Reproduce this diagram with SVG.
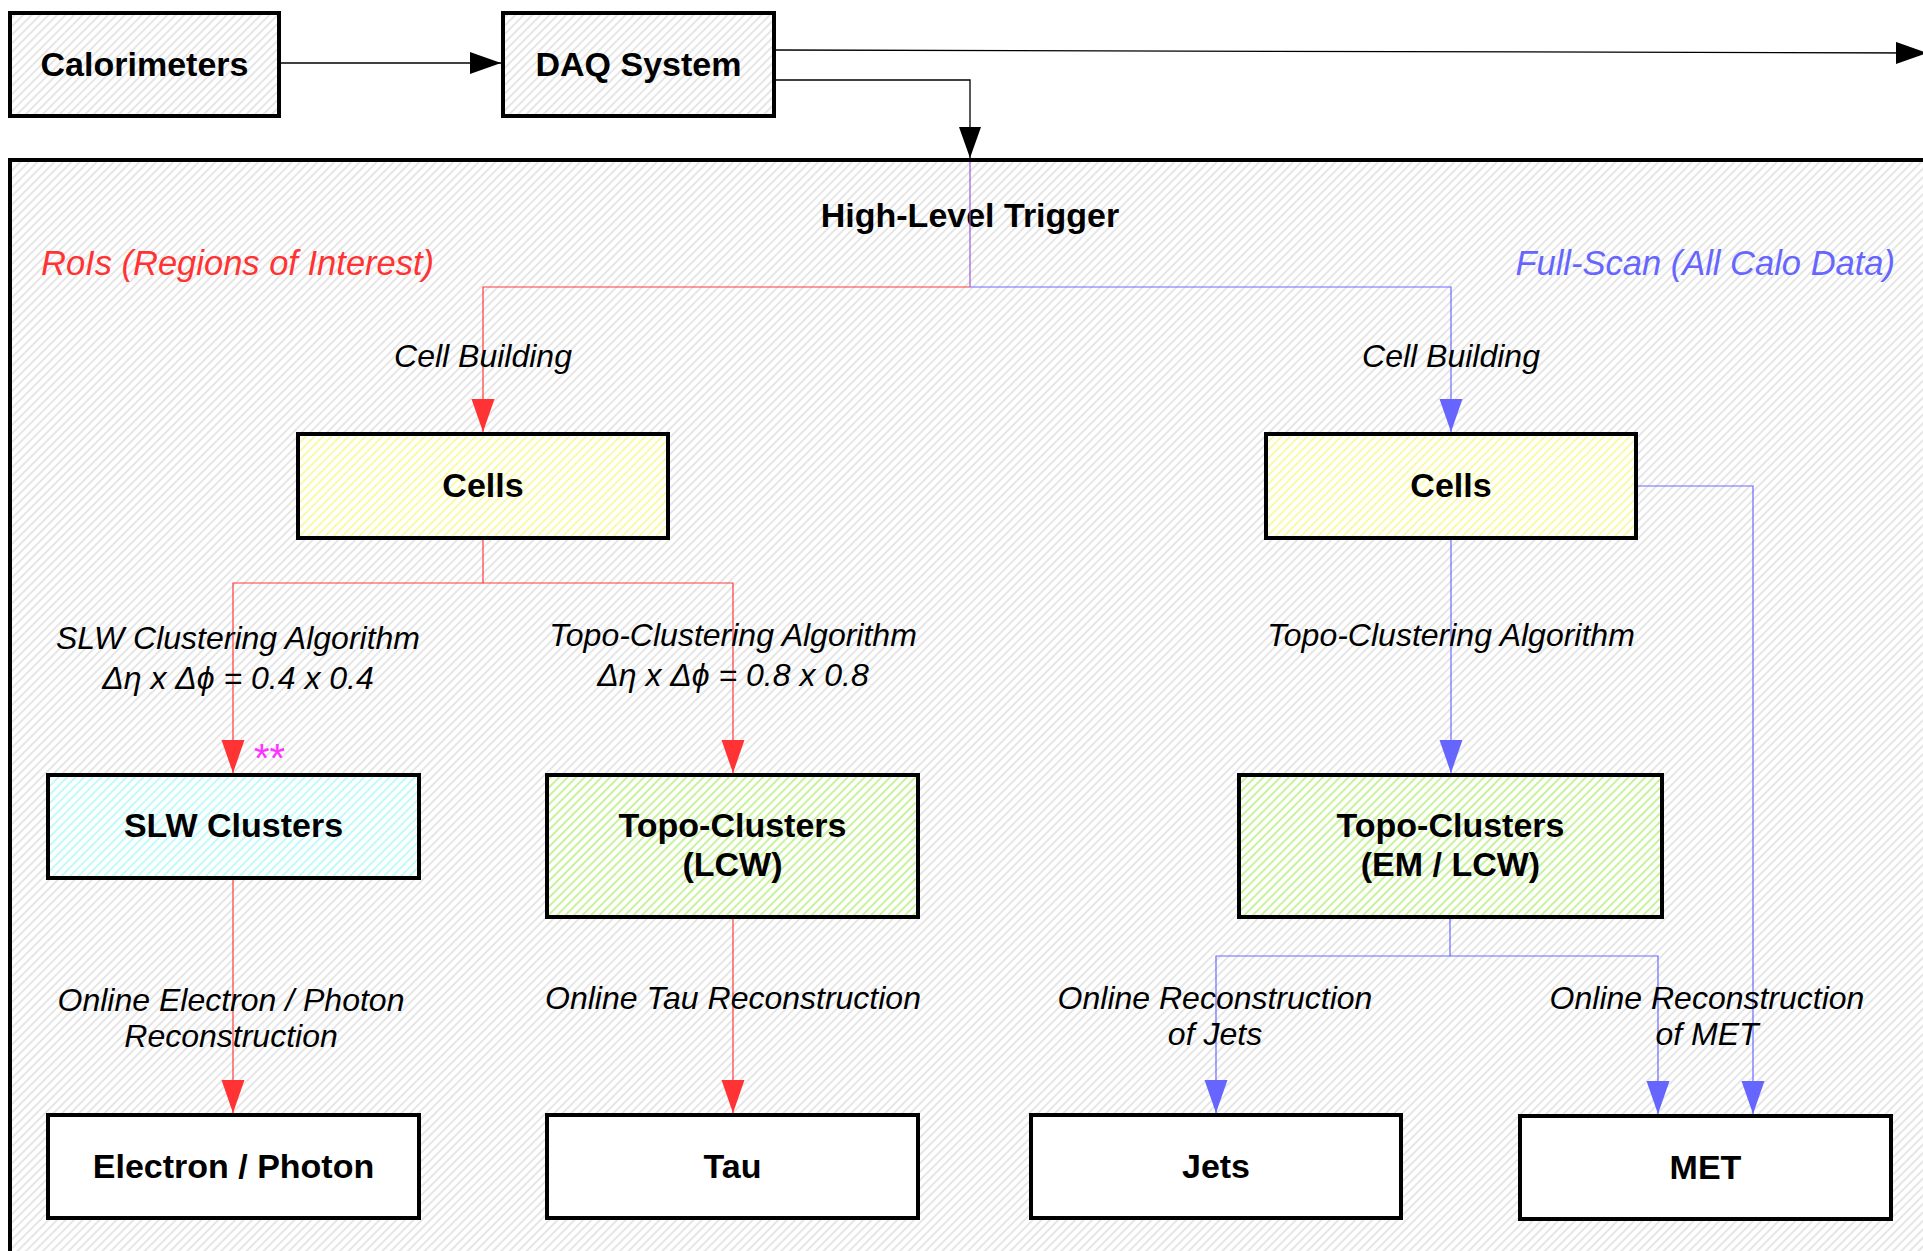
<svg xmlns="http://www.w3.org/2000/svg" width="1923" height="1251" viewBox="0 0 1923 1251">
  <style>
    text { font-family: "Liberation Sans", Arial, "DejaVu Sans", sans-serif; }
    .box { stroke: #000; stroke-width: 4; }
    .name { font-weight: bold; font-size: 34px; text-anchor: middle; fill: #000; }
    .step { font-style: italic; font-size: 32px; text-anchor: middle; fill: #000; }
    .region { font-style: italic; font-size: 34.5px; }
    .red { stroke: #ff3b3b; stroke-width: 1.2; fill: none; }
    .blue { stroke: #6b6bff; stroke-width: 1.2; fill: none; }
    .blk { stroke: #000; stroke-width: 1.3; fill: none; }
  </style>
  <defs>
    <pattern id="hatch-gray" patternUnits="userSpaceOnUse" width="6" height="6" patternTransform="rotate(45)">
      <rect width="6" height="6" fill="#fff"/>
      <line x1="3" y1="0" x2="3" y2="6" stroke="#d2d2d2" stroke-width="1.1"/>
    </pattern>
    <pattern id="hatch-yellow" patternUnits="userSpaceOnUse" width="6" height="6" patternTransform="rotate(45)">
      <rect width="6" height="6" fill="#fff"/>
      <line x1="3" y1="0" x2="3" y2="6" stroke="#f7f560" stroke-width="1.1"/>
    </pattern>
    <pattern id="hatch-green" patternUnits="userSpaceOnUse" width="6" height="6" patternTransform="rotate(45)">
      <rect width="6" height="6" fill="#fff"/>
      <line x1="3" y1="0" x2="3" y2="6" stroke="#9be84a" stroke-width="1.1"/>
    </pattern>
    <pattern id="hatch-cyan" patternUnits="userSpaceOnUse" width="6" height="6" patternTransform="rotate(45)">
      <rect width="6" height="6" fill="#fff"/>
      <line x1="3" y1="0" x2="3" y2="6" stroke="#8ef6f6" stroke-width="1.1"/>
    </pattern>
    <marker id="arr-black" markerUnits="userSpaceOnUse" markerWidth="32" markerHeight="22" refX="31" refY="11" orient="auto">
      <path d="M0,0 L31,11 L0,22 z" fill="#000"/>
    </marker>
    <marker id="arr-red" markerUnits="userSpaceOnUse" markerWidth="34" markerHeight="24" refX="33" refY="12" orient="auto">
      <path d="M0,0.5 L33,12 L0,23.5 z" fill="#ff3333"/>
    </marker>
    <marker id="arr-blue" markerUnits="userSpaceOnUse" markerWidth="34" markerHeight="24" refX="33" refY="12" orient="auto">
      <path d="M0,0.5 L33,12 L0,23.5 z" fill="#6666ff"/>
    </marker>
  </defs>

  <rect width="1923" height="1251" fill="#fff"/>

  <!-- High-Level Trigger container -->
  <g id="hlt">
    <rect x="10" y="160" width="1930" height="1110" fill="url(#hatch-gray)" class="box"/>
    <text class="name" x="970" y="227">High-Level Trigger</text>
    <text class="region" x="41" y="275" fill="#ff3333">RoIs (Regions of Interest)</text>
    <text class="region" x="1895" y="275" fill="#6666ff" text-anchor="end">Full-Scan (All Calo Data)</text>
  </g>

  <!-- connectors -->
  <g id="connectors">
    <line class="blk" x1="279" y1="63" x2="501" y2="63" marker-end="url(#arr-black)"/>
    <line class="blk" x1="774" y1="50" x2="1927" y2="53" marker-end="url(#arr-black)"/>
    <polyline class="blk" points="774,80 970,80 970,158" marker-end="url(#arr-black)"/>
    <line x1="970" y1="162" x2="970" y2="287" stroke="#9a5ad6" stroke-width="1.2"/>

    <!-- RoI branch -->
    <polyline class="red" points="970,287 483,287 483,432" marker-end="url(#arr-red)"/>
    <polyline class="red" points="483,539 483,583 233,583 233,773" marker-end="url(#arr-red)"/>
    <polyline class="red" points="483,583 733,583 733,773" marker-end="url(#arr-red)"/>
    <line class="red" x1="233" y1="879" x2="233" y2="1113" marker-end="url(#arr-red)"/>
    <line class="red" x1="733" y1="918" x2="733" y2="1113" marker-end="url(#arr-red)"/>

    <!-- full-scan branch -->
    <polyline class="blue" points="970,287 1451,287 1451,432" marker-end="url(#arr-blue)"/>
    <line class="blue" x1="1451" y1="539" x2="1451" y2="773" marker-end="url(#arr-blue)"/>
    <polyline class="blue" points="1450,918 1450,956 1216,956 1216,1113" marker-end="url(#arr-blue)"/>
    <polyline class="blue" points="1450,956 1658,956 1658,1114" marker-end="url(#arr-blue)"/>
    <polyline class="blue" points="1637,486 1753,486 1753,1114" marker-end="url(#arr-blue)"/>

    <!-- step labels -->
    <text class="step" x="483" y="367">Cell Building</text>
    <text class="step" x="1451" y="367">Cell Building</text>
    <text class="step" x="238" y="649">SLW Clustering Algorithm</text>
    <text class="step" x="238" y="689">Δη x Δϕ = 0.4 x 0.4</text>
    <text class="step" x="733" y="646">Topo-Clustering Algorithm</text>
    <text class="step" x="733" y="686">Δη x Δϕ = 0.8 x 0.8</text>
    <text class="step" x="1451" y="646">Topo-Clustering Algorithm</text>
    <text x="254" y="772" font-size="40" fill="#ff33ff">**</text>
    <text class="step" x="231" y="1011">Online Electron / Photon</text>
    <text class="step" x="231" y="1047">Reconstruction</text>
    <text class="step" x="733" y="1009">Online Tau Reconstruction</text>
    <text class="step" x="1215" y="1009">Online Reconstruction</text>
    <text class="step" x="1215" y="1045">of Jets</text>
    <text class="step" x="1707" y="1009">Online Reconstruction</text>
    <text class="step" x="1707" y="1045">of MET</text>
  </g>

  <g id="calorimeters">
    <rect x="10" y="13" width="269" height="103" fill="url(#hatch-gray)" class="box"/>
    <text class="name" x="144.5" y="76">Calorimeters</text>
  </g>
  <g id="daq">
    <rect x="503" y="13" width="271" height="103" fill="url(#hatch-gray)" class="box"/>
    <text class="name" x="638.5" y="76">DAQ System</text>
  </g>

  <g id="cells-roi">
    <rect x="298" y="434" width="370" height="104" fill="url(#hatch-yellow)" class="box"/>
    <text class="name" x="483" y="497">Cells</text>
  </g>
  <g id="cells-fs">
    <rect x="1266" y="434" width="370" height="104" fill="url(#hatch-yellow)" class="box"/>
    <text class="name" x="1451" y="497">Cells</text>
  </g>

  <g id="slw-clusters">
    <rect x="48" y="775" width="371" height="103" fill="url(#hatch-cyan)" class="box"/>
    <text class="name" x="233.5" y="837">SLW Clusters</text>
  </g>
  <g id="topo-lcw">
    <rect x="547" y="775" width="371" height="142" fill="url(#hatch-green)" class="box"/>
    <text class="name" x="732.5" y="837">Topo-Clusters</text>
    <text class="name" x="732.5" y="876">(LCW)</text>
  </g>
  <g id="topo-em-lcw">
    <rect x="1239" y="775" width="423" height="142" fill="url(#hatch-green)" class="box"/>
    <text class="name" x="1450.5" y="837">Topo-Clusters</text>
    <text class="name" x="1450.5" y="876">(EM / LCW)</text>
  </g>

  <g id="electron-photon">
    <rect x="48" y="1115" width="371" height="103" fill="#fff" class="box"/>
    <text class="name" x="233.5" y="1178">Electron / Photon</text>
  </g>
  <g id="tau">
    <rect x="547" y="1115" width="371" height="103" fill="#fff" class="box"/>
    <text class="name" x="732.5" y="1178">Tau</text>
  </g>
  <g id="jets">
    <rect x="1031" y="1115" width="370" height="103" fill="#fff" class="box"/>
    <text class="name" x="1216" y="1178">Jets</text>
  </g>
  <g id="met">
    <rect x="1520" y="1116" width="371" height="103" fill="#fff" class="box"/>
    <text class="name" x="1705.5" y="1179">MET</text>
  </g>
</svg>
